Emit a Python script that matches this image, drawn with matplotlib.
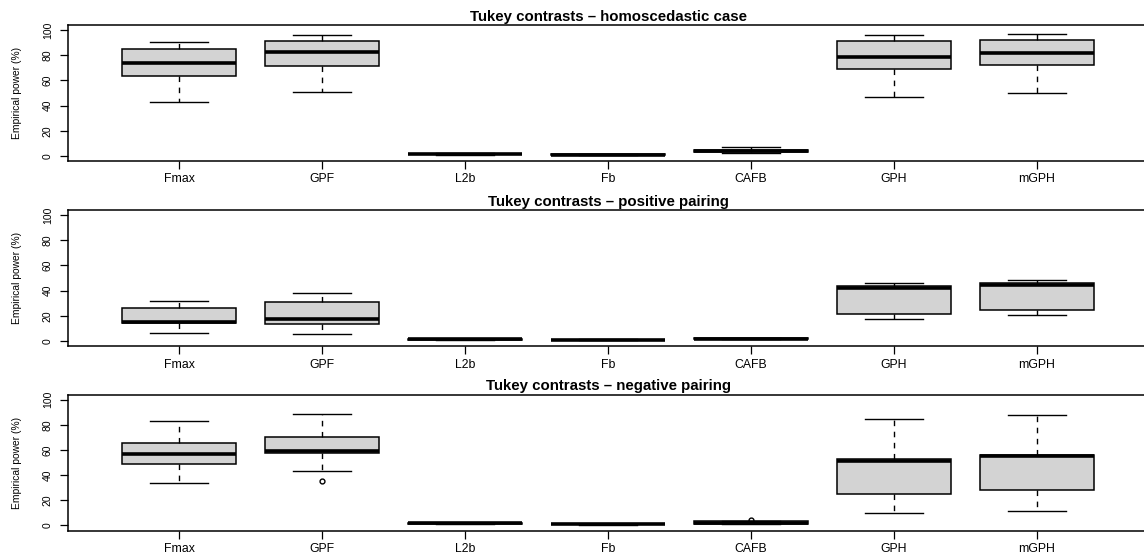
import matplotlib
matplotlib.use("Agg")
import matplotlib.pyplot as plt

plt.rcParams['font.family'] = ['Liberation Sans', 'DejaVu Sans']

methods = ["Fmax", "GPF", "L2b", "Fb", "CAFB", "GPH", "mGPH"]

# five-number summaries of empirical power (%) per method
homo_lo = [43.1, 50.5, 1.0, 0.4, 2.0, 46.6, 49.7]
homo_q1 = [63.2, 71.2, 1.3, 0.7, 3.0, 69.3, 72.0]
homo_med = [73.6, 82.3, 1.6, 1.0, 3.8, 78.8, 81.5]
homo_q3 = [84.9, 91.3, 1.9, 1.2, 5.0, 91.0, 92.3]
homo_hi = [90.7, 96.3, 2.2, 1.5, 7.0, 96.0, 96.8]
homo_out = [[], [], [], [], [], [], []]

pos_lo = [6.6, 5.3, 0.8, 0.4, 1.3, 17.7, 20.4]
pos_q1 = [14.3, 13.8, 1.1, 0.6, 1.6, 21.7, 24.4]
pos_med = [15.4, 17.2, 1.3, 0.8, 1.8, 41.8, 44.2]
pos_q3 = [26.5, 30.7, 1.5, 1.0, 2.0, 43.9, 46.0]
pos_hi = [31.5, 37.8, 1.8, 1.2, 2.4, 45.8, 48.7]
pos_out = [[], [], [], [], [], [], []]

neg_lo = [33.8, 43.1, 1.0, 0.5, 1.0, 9.8, 11.3]
neg_q1 = [48.9, 57.6, 1.3, 0.8, 1.5, 24.6, 27.8]
neg_med = [56.6, 59.5, 1.6, 1.0, 2.2, 51.0, 55.3]
neg_q3 = [65.8, 70.1, 1.9, 1.2, 3.2, 52.4, 56.3]
neg_hi = [82.8, 88.6, 2.2, 1.4, 3.8, 84.9, 87.5]
neg_out = [[], [35.4], [], [], [4.4], [], []]

panels = [
    ("Tukey contrasts \u2013 homoscedastic case", homo_lo, homo_q1, homo_med, homo_q3, homo_hi, homo_out),
    ("Tukey contrasts \u2013 positive pairing", pos_lo, pos_q1, pos_med, pos_q3, pos_hi, pos_out),
    ("Tukey contrasts \u2013 negative pairing", neg_lo, neg_q1, neg_med, neg_q3, neg_hi, neg_out),
]

W, H = 1144, 555
fig = plt.figure(figsize=(W / 100, H / 100), dpi=100)

tops = [25, 210, 394.5]
left, right = 67.5, 1148.5
ph = 136

for (title, lo, q1, med, q3, hi, out), top in zip(panels, tops):
    ax = fig.add_axes([left / W, 1 - (top + ph) / H, (right - left) / W, ph / H])
    stats = []
    for i in range(len(methods)):
        stats.append(dict(label=methods[i], whislo=lo[i], q1=q1[i], med=med[i],
                          q3=q3[i], whishi=hi[i], fliers=out[i]))
    ax.bxp(stats, positions=range(1, 8), widths=0.8, patch_artist=True,
           showfliers=True, capwidths=0.4,
           boxprops=dict(facecolor="#d3d3d3", edgecolor="black", linewidth=1.1),
           medianprops=dict(color="black", linewidth=2.6, solid_capstyle="butt"),
           whiskerprops=dict(color="black", linewidth=1.0, linestyle=(0, (4, 4))),
           capprops=dict(color="black", linewidth=1.0),
           flierprops=dict(marker="o", markersize=3.5, markerfacecolor="none",
                           markeredgecolor="black", markeredgewidth=1.0))
    ax.set_xlim(0.22, 7.78)
    ax.set_ylim(-4, 104)
    ax.set_yticks([0, 20, 40, 60, 80, 100])
    ax.set_xticks(range(1, 8))
    ax.set_xticklabels(methods)
    ax.tick_params(axis="x", labelsize=8.8, length=5.5, width=0.9, pad=3.5)
    ax.tick_params(axis="y", labelsize=7.5, length=5.5, width=0.9, pad=5, labelrotation=90)
    for lab in ax.get_yticklabels():
        lab.set_va("center")
    for sp in ax.spines.values():
        sp.set_linewidth(1.1)
    ax.set_ylabel("Empirical power (%)", fontsize=7.4, ha="center", va="center")
    ax.yaxis.set_label_coords((17 - left) / (right - left), 0.5)
    ax.set_title(title, fontsize=10.8, fontweight="bold", pad=3)

fig.savefig("out.png", dpi=100)
